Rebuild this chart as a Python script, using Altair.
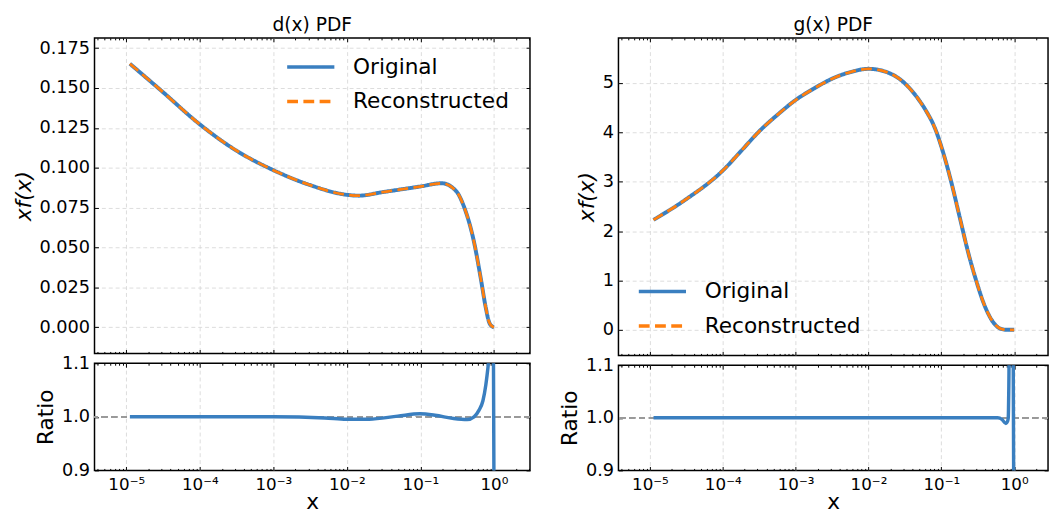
import altair as alt
import pandas as pd

FONT = "DejaVu Sans"
BLUE = "#3a7fc0"
ORANGE = "#ff7f0e"
SERIES = ["Original", "Reconstructed"]

# ---- d(x) PDF ----
D_X = [1.12e-5, 3.1e-5, 1.0e-4, 3.13e-4, 1.0e-3, 3.13e-3, 9.8e-3, 1.46e-2, 3.05e-2,
       9.8e-2, 0.195, 0.308, 0.389, 0.536, 0.661, 0.774, 0.861, 0.957, 1.0]
D_XF = [0.1652, 0.1477, 0.1272, 0.1108, 0.0985, 0.0892, 0.0831, 0.0825, 0.0847,
        0.0882, 0.0903, 0.0852, 0.0759, 0.0534, 0.0308, 0.0123, 0.0031, 0.0004, 0.0]
D_RX = [1.12e-5, 1.0e-4, 1.0e-3, 5.03e-3, 9.8e-3, 2.0e-2, 4.92e-2, 9.82e-2, 0.158,
        0.283, 0.433, 0.536, 0.627, 0.708, 0.776, 0.841, 0.870, 0.984, 1.0]
D_RATIO = [1.0, 1.0, 1.0, 0.998, 0.9956, 0.9956, 1.0013, 1.0056, 1.003,
           0.9969, 0.995, 1.0, 1.0125, 1.03, 1.06, 1.10, 1.12, 1.12, 0.88]

# ---- g(x) PDF ----
G_X = [1.12e-5, 3.01e-5, 1.0e-4, 1.79e-4, 3.18e-4, 5.65e-4, 1.0e-3, 1.79e-3, 3.18e-3,
       5.65e-3, 1.0e-2, 1.78e-2, 3.18e-2, 4.57e-2, 6.25e-2, 8.15e-2, 0.106, 0.137,
       0.178, 0.231, 0.301, 0.391, 0.508, 0.659, 0.813, 1.0]
G_XF = [2.229, 2.628, 3.227, 3.626, 4.026, 4.359, 4.657, 4.891, 5.090,
        5.223, 5.289, 5.223, 4.990, 4.725, 4.424, 4.092, 3.593, 2.994,
        2.295, 1.598, 0.998, 0.500, 0.167, 0.020, 0.0, 0.0]
G_RX = [1.12e-5, 1.0e-3, 0.1, 0.5, 0.593, 0.68, 0.771, 0.81, 0.83, 0.845, 0.855,
        0.97, 0.985]
G_RATIO = [1.0, 1.0, 1.0, 1.0, 1.0, 0.997, 0.989, 0.993, 1.0, 1.06, 1.12,
           1.12, 0.88]

# ---- axes ticks ----
X_MAJOR = [1e-5, 1e-4, 1e-3, 1e-2, 1e-1, 1.0]
X_TICK_LABELS = ["10⁻⁵", "10⁻⁴", "10⁻³", "10⁻²", "10⁻¹", "10⁰"]
X_MINOR = [m * 10.0 ** k for k in range(-6, 1) for m in range(2, 10)]
D_YTICKS = [0.0, 0.025, 0.05, 0.075, 0.1, 0.125, 0.15, 0.175]
G_YTICKS = [0, 1, 2, 3, 4, 5]
R_YTICKS = [0.9, 1.0, 1.1]

LEFT_XDOM = [10 ** -5.432, 10 ** 0.490]
RIGHT_XDOM = [10 ** -5.432, 10 ** 0.465]


def build_label_expr():
    expr = "'%s'" % X_TICK_LABELS[-1]
    for val, lab in reversed(list(zip(X_MAJOR[:-1], X_TICK_LABELS[:-1]))):
        expr = "datum.value < %g ? '%s' : (%s)" % (val * 3.0, lab, expr)
    return expr


LABEL_EXPR = build_label_expr()


def minor_in(dom):
    return [v for v in X_MINOR if dom[0] <= v <= dom[1]]


def tick_axis(orient, values, size, **kw):
    opts = dict(orient=orient, values=values, offset=-size, tickSize=size, tickWidth=1,
                tickColor="black", domain=False, grid=False, labels=False, title=None)
    opts.update(kw)
    return alt.Axis(**opts)


def grid_axis(orient, values):
    return alt.Axis(orient=orient, values=values, grid=True, gridColor="#d4d4d4",
                    gridDash=[4, 3], gridWidth=0.8, ticks=False, labels=False,
                    domain=False, title=None)


def make_legend(lx, ly):
    return alt.Legend(orient="none", legendX=lx, legendY=ly, title=None, direction="vertical",
                      labelFontSize=22, labelFont=FONT, labelColor="black",
                      symbolType="stroke", symbolSize=2304, symbolStrokeWidth=3.5,
                      labelOffset=17, rowPadding=0, clipHeight=34.5, padding=0)


def left_y_axis(values, fmt, title, title_style):
    return tick_axis("left", values, 4, labels=True, format=fmt, labelFontSize=18,
                     labelPadding=5, title=title, titleFontSize=22, titleFontStyle=title_style,
                     titlePadding=4)


def top_panel(xs_, vs_, xdom, ydom, yvals, yfmt, width, height, title, lx, ly):
    rows = [{"x": a, "v": b, "series": s} for s in SERIES for a, b in zip(xs_, vs_)]
    df = pd.DataFrame(rows)
    xs = alt.Scale(type="log", domain=xdom, nice=False)
    ys = alt.Scale(domain=ydom, nice=False, zero=False)
    leg = make_legend(lx, ly)
    color = alt.Color("series:N", scale=alt.Scale(domain=SERIES, range=[BLUE, ORANGE]), legend=leg)
    dash = alt.StrokeDash("series:N", scale=alt.Scale(domain=SERIES, range=[[1, 0], [11, 5.5]]),
                          legend=leg)
    base = alt.Chart(df)
    orig_b = base.transform_filter(alt.datum.series == "Original")
    rec_b = base.transform_filter(alt.datum.series == "Reconstructed")
    minor = minor_in(xdom)

    grid = orig_b.mark_line(opacity=0).encode(
        x=alt.X("x:Q", scale=xs, axis=grid_axis("bottom", X_MAJOR)),
        y=alt.Y("v:Q", scale=ys, axis=grid_axis("left", yvals)))
    orig = orig_b.mark_line(strokeWidth=4, interpolate="monotone", clip=True).encode(
        x=alt.X("x:Q", scale=xs, axis=tick_axis("bottom", X_MAJOR, 4)),
        y=alt.Y("v:Q", scale=ys, axis=left_y_axis(yvals, yfmt, "xf(x)", "italic")),
        color=color, strokeDash=dash)
    rec = rec_b.mark_line(strokeWidth=2.8, interpolate="monotone", clip=True).encode(
        x=alt.X("x:Q", scale=xs, axis=tick_axis("bottom", minor, 2)),
        y=alt.Y("v:Q", scale=ys, axis=tick_axis("right", yvals, 4)),
        color=color, strokeDash=dash)
    tmaj = orig_b.mark_line(opacity=0).encode(
        x=alt.X("x:Q", scale=xs, axis=tick_axis("top", X_MAJOR, 4)),
        y=alt.Y("v:Q", scale=ys, axis=None))
    tmin = orig_b.mark_line(opacity=0).encode(
        x=alt.X("x:Q", scale=xs, axis=tick_axis("top", minor, 2)),
        y=alt.Y("v:Q", scale=ys, axis=None))
    return alt.layer(grid, orig, rec, tmaj, tmin).resolve_axis(
        x="independent", y="independent").properties(width=width, height=height, title=title)


def ratio_panel(rx, rv, xdom, width, height):
    df = pd.DataFrame({"x": rx, "r": rv})
    xs = alt.Scale(type="log", domain=xdom, nice=False)
    ys = alt.Scale(domain=[0.9, 1.1], nice=False, zero=False)
    base = alt.Chart(df)
    minor = minor_in(xdom)
    grid = base.mark_line(opacity=0).encode(
        x=alt.X("x:Q", scale=xs, axis=grid_axis("bottom", X_MAJOR)),
        y=alt.Y("r:Q", scale=ys, axis=tick_axis("right", R_YTICKS, 4)))
    ref = base.mark_rule(color="#999999", strokeDash=[6, 4], strokeWidth=1.3).encode(
        y=alt.YDatum(1.0, axis=None))
    line = base.mark_line(color=BLUE, strokeWidth=3.5, interpolate="monotone", clip=True).encode(
        x=alt.X("x:Q", scale=xs, axis=tick_axis("bottom", X_MAJOR, 4, labels=True,
                                                  labelExpr=LABEL_EXPR, labelFontSize=17,
                                                  labelPadding=6, title="x", titleFontSize=22,
                                                  titlePadding=0)),
        y=alt.Y("r:Q", scale=ys, axis=left_y_axis(R_YTICKS, ".1f", "Ratio", "normal")))
    bmin = base.mark_line(opacity=0).encode(
        x=alt.X("x:Q", scale=xs, axis=tick_axis("bottom", minor, 2)),
        y=alt.Y("r:Q", scale=ys, axis=None))
    tmaj = base.mark_line(opacity=0).encode(
        x=alt.X("x:Q", scale=xs, axis=tick_axis("top", X_MAJOR, 4)),
        y=alt.Y("r:Q", scale=ys, axis=None))
    tmin = base.mark_line(opacity=0).encode(
        x=alt.X("x:Q", scale=xs, axis=tick_axis("top", minor, 2)),
        y=alt.Y("r:Q", scale=ys, axis=None))
    return alt.layer(grid, ref, line, bmin, tmaj, tmin).resolve_axis(
        x="independent", y="independent").properties(width=width, height=height)


title_d = alt.TitleParams("d(x) PDF", fontSize=19, font=FONT, fontWeight="normal",
                          color="black", offset=2, anchor="middle")
title_g = alt.TitleParams("g(x) PDF", fontSize=19, font=FONT, fontWeight="normal",
                          color="black", offset=2, anchor="middle")

top_d = top_panel(D_X, D_XF, LEFT_XDOM, [-0.0164, 0.1814], D_YTICKS, ".3f", 443, 321,
                  title_d, 194, 12.45)
top_g = top_panel(G_X, G_XF, RIGHT_XDOM, [-0.518, 5.916], G_YTICKS, "d", 437, 323,
                  title_g, 18.7, 240.75)
rat_d = ratio_panel(D_RX, D_RATIO, LEFT_XDOM, 443, 109)
rat_g = ratio_panel(G_RX, G_RATIO, RIGHT_XDOM, 437, 107)

left_col = alt.vconcat(top_d, rat_d, spacing=10, bounds="flush").resolve_scale(
    color="independent", strokeDash="independent")
right_col = alt.vconcat(top_g, rat_g, spacing=10, bounds="flush").resolve_scale(
    color="independent", strokeDash="independent")

chart = alt.hconcat(left_col, right_col, spacing=26).resolve_scale(
    color="independent", strokeDash="independent"
).properties(
    padding={"left": 3, "top": 3, "right": 0, "bottom": 0},
    background="white",
).configure_view(
    stroke="black", strokeWidth=1.5
).configure_axis(
    labelFont=FONT, titleFont=FONT, labelColor="black", titleColor="black",
    titleFontWeight="normal"
).configure_legend(labelFont=FONT)

chart.save("out.html", embed_options={"renderer": "svg", "actions": False})
